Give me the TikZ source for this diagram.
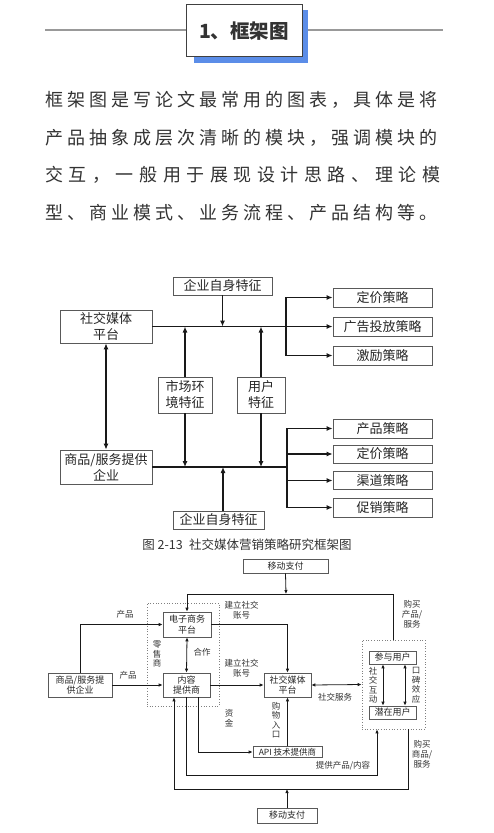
\documentclass[tikz,border=0pt]{standalone}
\usepackage{fontspec}
\setmainfont{Noto Sans CJK SC}
\newfontfamily\para[LetterSpace=22.2]{Noto Sans CJK SC}
\newfontfamily\parw[LetterSpace=30.9]{Noto Sans CJK SC}
\usetikzlibrary{arrows.meta}
\newcommand\fsz[2]{\fontsize{#1}{#2}\selectfont}
\definecolor{hblue}{HTML}{5B8DE8}
\tikzset{
 boxa/.style={draw=black!65, line width=0.8pt, fill=white, inner sep=0pt, align=center, text=black!85, font=\fsz{13}{16}},
 arra/.style={-{Latex[length=6pt,width=5pt]}, line width=1.1pt, draw=black!90},
 dbla/.style={{Latex[length=6pt,width=5pt]}-{Latex[length=6pt,width=5pt]}, line width=1.1pt, draw=black!90},
 busa/.style={line width=1.8pt, draw=black!90},
 boxb/.style={draw=black!65, line width=0.6pt, fill=white, inner sep=0pt, align=center, text=black!85, font=\fsz{9}{10.5}},
 grp/.style={draw=black!50, dotted, line width=0.7pt, inner sep=0pt},
 arrb/.style={-{Latex[length=4pt,width=3.5pt]}, line width=0.8pt, draw=black!90},
 dblb/.style={{Latex[length=4pt,width=3.5pt]}-{Latex[length=4pt,width=3.5pt]}, line width=0.8pt, draw=black!90},
 lab/.style={font=\fsz{8.5}{10}, text=black!80, align=center, inner sep=0pt},
 ptext/.style={anchor=west, inner sep=0pt, font=\para\fsz{18}{20}, text=black!80},
}
\begin{document}
\begin{tikzpicture}[x=1pt,y=-1pt]
\useasboundingbox[fill=white] (0,0) rectangle (493,833);
% header
\draw[line width=1.3pt, draw=black!40] (45,30) -- (443,30);
\fill[hblue] (194,10) rectangle (308,63);
\draw[fill=white, draw=black!75, line width=0.9pt] (186,4) rectangle (302,56);
\node[font=\bfseries\fsz{19.5}{22}, text=black!80] (ht) at (244,31) {1、框架图};
% paragraph
\node[ptext] (p1) at (45,100) {框架图是写论文最常用的图表，具体是将};
\node[ptext] (p2) at (45,138) {产品抽象成层次清晰的模块，强调模块的};
\node[ptext, font=\parw\fsz{18}{20}] (p3) at (45,175) {交互，一般用于展现设计思路、理论模};
\node[ptext] (p4) at (45,213) {型、商业模式、业务流程、产品结构等。};

% ===== diagram 1 =====
\node[boxa, minimum width=99pt, minimum height=18pt] (qy1) at (222.5,286) {企业自身特征};
\node[boxa, minimum width=92pt, minimum height=33pt] (sj) at (106,326.5) {社交媒体\\平台};
\node[boxa, minimum width=99pt, minimum height=19pt] (dj1) at (382.5,297.5) {定价策略};
\node[boxa, minimum width=99pt, minimum height=19pt] (gg) at (382.5,326.5) {广告投放策略};
\node[boxa, minimum width=99pt, minimum height=19pt] (jl) at (382.5,355.5) {激励策略};
\node[boxa, minimum width=54pt, minimum height=36pt] (sc) at (185,395) {市场环\\境特征};
\node[boxa, minimum width=48pt, minimum height=36pt] (yh) at (261,395) {用户\\特征};
\node[boxa, minimum width=92pt, minimum height=34pt] (sp) at (106,467) {商品/服务提供\\企业};
\node[boxa, minimum width=99pt, minimum height=19pt] (cp) at (382.5,428.5) {产品策略};
\node[boxa, minimum width=99pt, minimum height=18pt] (dj2) at (382.5,454) {定价策略};
\node[boxa, minimum width=99pt, minimum height=18pt] (qd) at (382.5,480.5) {渠道策略};
\node[boxa, minimum width=99pt, minimum height=19pt] (cx) at (382.5,507.5) {促销策略};
\node[boxa, minimum width=91pt, minimum height=18pt] (qy2) at (218.5,520) {企业自身特征};
\coordinate (b1) at (286,326.5);
\coordinate (b2) at (287,467);
\draw[arra, line width=1.8pt] (sj.east) -- (gg.west);
\draw[arra] (b1) |- (dj1.west);
\draw[arra] (b1) |- (jl.west);
\draw[arra] (qy1.south) -- (qy1.south |- sj.east);
\draw[arra] (sc.north) -- (sc.north |- sj.east);
\draw[arra] (yh.north) -- (yh.north |- sj.east);
\draw[dbla] (sj.south) -- (sp.north);
\draw[busa] (sp.east) -- (b2);
\draw[arra] (sc.south) -- (sc.south |- sp.east);
\draw[arra] (yh.south) -- (yh.south |- sp.east);
\draw[arra] ([xshift=4.5pt]qy2.north) -- ([xshift=4.5pt]qy2.north |- sp.east);
\draw[arra] (b2) |- (cp.west);
\draw[arra] (b2) |- (dj2.west);
\draw[arra] (b2) |- (qd.west);
\draw[arra] (b2) |- (cx.west);
\node[font=\fsz{12.5}{14}, text=black!80, inner sep=0pt] (cap) at (247,545) {图 2-13\enspace 社交媒体营销策略研究框架图};

% ===== diagram 2 =====
\node[grp, minimum width=72pt, minimum height=103pt] (g1) at (183,654.5) {};
\node[grp, minimum width=63pt, minimum height=89pt] (g2) at (393.5,684.5) {};
\node[boxb, minimum width=85pt, minimum height=14pt] (pay1) at (285.5,566) {移动支付};
\node[boxb, minimum width=48pt, minimum height=25pt] (ec) at (187,624.5) {电子商务\\平台};
\node[boxb, minimum width=47pt, minimum height=24pt] (cont) at (186.5,685) {内容\\提供商};
\node[boxb, minimum width=64pt, minimum height=24pt] (sup) at (80,685) {商品/服务提\\供企业};
\node[boxb, minimum width=47pt, minimum height=24pt] (sm) at (287.5,685) {社交媒体\\平台};
\node[boxb, minimum width=47pt, minimum height=13pt] (part) at (392.5,657.5) {参与用户};
\node[boxb, minimum width=47pt, minimum height=13pt] (pot) at (392.5,712.5) {潜在用户};
\node[boxb, minimum width=69pt, minimum height=11pt, font=\fsz{8.5}{10}] (api) at (287.5,752) {API 技术提供商};
\node[boxb, minimum width=60pt, minimum height=15pt] (pay2) at (287,815.5) {移动支付};

\coordinate (t1) at (187,594);
\coordinate (t2) at (286,594);
\draw[arrb] (g2.north) -- (g2.north |- t1) -- (t1) -- (ec.north);
\draw[arrb] (pay1.south) -- (t2);
\draw[arrb] (sup.north) |- (ec.west);
\draw[arrb] (sup.east) -- (cont.west);
\draw[arrb] (ec.east) -| (sm.north);
\draw[arrb] (cont.east) -- (sm.west);
\draw[dblb] (ec.south) -- (cont.north);
\draw[dblb] (sm.east) -- (g2.west);
\draw[dblb] ([xshift=-9.5pt]part.south) -- ([xshift=-9.5pt]pot.north);
\draw[dblb] ([xshift=12.5pt]part.south) -- ([xshift=12.5pt]pot.north);
\draw[arrb] (api.north) -- (sm.south);
\draw[arrb] ([xshift=11.5pt]cont.south) |- (api.west);
\draw[arrb] (cont.south) -- ++(0,78) -| ([xshift=-16.5pt]g2.south);
\draw[arrb] ([xshift=14.5pt]g2.south) -- ++(0,60) -| ([xshift=-12.5pt]cont.south);
\draw[arrb] (pay2.north) -- (pay2.north |- 0,789);

\node[lab] (l1) at (125,614) {产品};
\node[lab] (l2) at (128,675) {产品};
\node[lab] (l3) at (241.5,610) {建立社交\\账号};
\node[lab] (l4) at (241.5,668) {建立社交\\账号};
\node[lab] (l5) at (202,652) {合作};
\node[lab, font=\fsz{8.5}{9.5}] (l6) at (157,654) {零\\售\\商};
\node[lab] (l7) at (335,697) {社交服务};
\node[lab, font=\fsz{8.5}{9.5}] (l8) at (373,685) {社\\交\\互\\动};
\node[lab, font=\fsz{8.5}{9.5}] (l9) at (416,685) {口\\碑\\效\\应};
\node[lab, font=\fsz{8.5}{9.5}] (l10) at (276,720) {购\\物\\入\\口};
\node[lab, font=\fsz{8.5}{9.5}] (l11) at (229,718) {资\\金};
\node[lab] (l12) at (343,766) {提供产品/内容};
\node[lab] (l13) at (422,754) {购买\\商品/\\服务};
\node[lab] (l14) at (412,614) {购买\\产品/\\服务};
\end{tikzpicture}
\end{document}
